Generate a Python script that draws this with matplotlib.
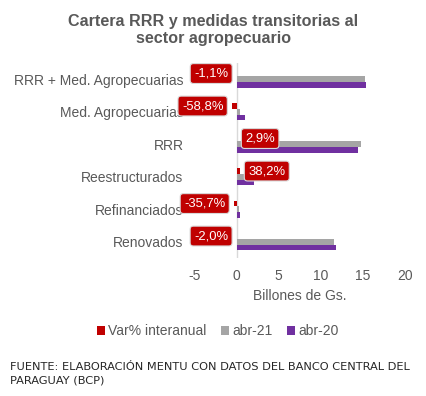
import numpy as np
import matplotlib.pyplot as plt

categories = ['RRR + Med. Agropecuarias', 'Med. Agropecuarias', 'RRR',
              'Reestructurados', 'Refinanciados', 'Renovados']
var_pct = [-1.1, -58.8, 2.9, 38.2, -35.7, -2.0]
abr_21 = [15.2, 0.41, 14.8, 2.83, 0.27, 11.55]
abr_20 = [15.4, 1.0, 14.4, 2.05, 0.42, 11.8]
xticks = [-5, 0, 5, 10, 15, 20]

RED = '#C00000'
GRAY = '#A5A5A5'
PURPLE = '#7030A0'
TXT = '#595959'

plt.rcParams['font.family'] = ['Liberation Sans', 'DejaVu Sans']
plt.rcParams['axes.unicode_minus'] = False

fig = plt.figure(figsize=(4.27, 3.96), dpi=100)
ax = fig.add_axes([0.4557, 0.3485, 0.4928, 0.4925])

y = np.arange(len(categories))
h = 0.175
var_frac = np.array(var_pct) / 100.0

ax.barh(y - h, var_frac, height=h, color=RED, label='Var% interanual', zorder=2)
ax.barh(y, abr_21, height=h, color=GRAY, label='abr-21', zorder=2)
ax.barh(y + h, abr_20, height=h, color=PURPLE, label='abr-20', zorder=2)

# data labels for the yearly variation
for yi, v, p in zip(y, var_frac, var_pct):
    txt = f'{p:.1f}%'.replace('.', ',')
    if v < 0:
        off, ha = -6, 'right'
    else:
        off, ha = 6, 'left'
    ax.annotate(txt, xy=(v, yi - h), xytext=(off, 0), textcoords='offset points',
                ha=ha, va='center', color='white', fontsize=9.4, zorder=5,
                bbox=dict(boxstyle='round,pad=0.3,rounding_size=0.25',
                          fc=RED, ec='#D9D9D9', lw=0.8))

ax.axvline(0, color='#D9D9D9', lw=1, zorder=1)
ax.set_xlim(-5, 20)
ax.set_ylim(len(categories) - 0.5, -0.5)
ax.set_xticks(xticks)
ax.set_yticks(y)
ax.set_yticklabels(categories)
ax.tick_params(length=0, labelsize=10, labelcolor=TXT)
ax.tick_params(axis='x', pad=8)
ax.tick_params(axis='y', pad=8)
for s in ax.spines.values():
    s.set_visible(False)
ax.set_xlabel('Billones de Gs.', color=TXT, fontsize=10, labelpad=4)

fig.text(0.5, 0.965, 'Cartera RRR y medidas transitorias al\nsector agropecuario',
         ha='center', va='top', fontsize=11.6, fontweight='bold', color=TXT,
         linespacing=1.22)

fig.legend(loc='center', bbox_to_anchor=(0.51, 0.163), ncol=3, frameon=False,
           fontsize=10, labelcolor=TXT, handlelength=0.6, handleheight=0.6,
           handletextpad=0.25, columnspacing=1.0)

fig.text(0.024, 0.056, 'FUENTE: ELABORACIÓN MENTU CON DATOS DEL BANCO CENTRAL DEL\nPARAGUAY (BCP)',
         ha='left', va='center', fontsize=8.2, color='#262626', linespacing=1.35,
         family='DejaVu Sans')

fig.savefig('out.png', dpi=100)
